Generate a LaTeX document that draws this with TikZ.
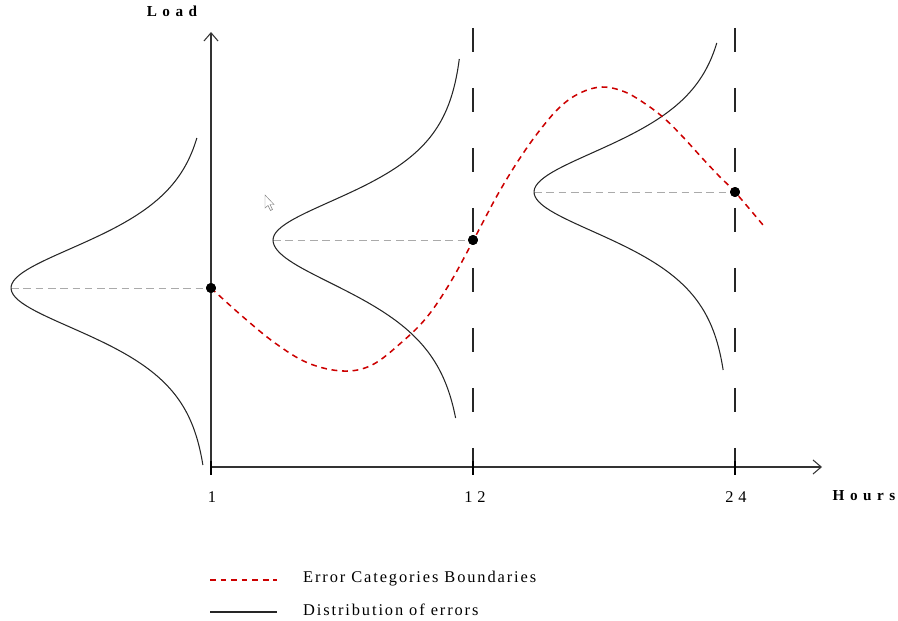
\documentclass[tikz,border=0pt]{standalone}
\usepackage{fontspec}
\setmainfont{Liberation Serif}
\newfontfamily\legendfont[LetterSpace=11.5]{Liberation Serif}
\newfontfamily\tickfont[LetterSpace=30]{Liberation Serif}
\newfontfamily\axisfont[LetterSpace=36]{Liberation Serif}
\usetikzlibrary{arrows.meta}
\definecolor{boundred}{RGB}{204,0,0}
\definecolor{axisgrey}{RGB}{51,51,51}
\definecolor{guidegrey}{RGB}{170,170,170}

\begin{document}
\begin{tikzpicture}[x=0.03cm, y=-0.03cm,
	axis/.style={axisgrey, line width=0.9pt, -{Straight Barb[length=7pt,width=12pt]}},
	hourtick/.style={black, line width=1.7pt},
	hourline/.style={black!85, line width=0.9pt, dash pattern=on 20.5pt off 30.7pt},
	guide/.style={guidegrey, line width=0.6pt, dash pattern=on 6.5pt off 4pt},
	boundary/.style={boundred, line width=1.3pt, dash pattern=on 5pt off 4pt},
	distrib/.style={black!85, line width=0.9pt},
	mean/.style={circle, fill=black, inner sep=0pt, minimum size=8.5pt},
	ticklab/.style={inner sep=0pt, anchor=base, font=\fontsize{14}{16}\tickfont},
	axislab/.style={inner sep=0pt, anchor=base, font=\fontsize{13}{15}\axisfont\bfseries},
	legendlab/.style={inner sep=0pt, anchor=base west, font=\fontsize{14}{16}\legendfont}]
	\useasboundingbox (0,0) rectangle (898,621);
	% hours 12 and 24
	\draw[hourline] (473,28) -- (473,467);
	\draw[hourline] (735,28) -- (735,467);
	% mean values
	\node[mean] (m1) at (211,288) {};
	\node[mean] (m2) at (473,240) {};
	\node[mean] (m3) at (735,192) {};
	\coordinate (t1) at (11,288);
	\coordinate (t2) at (273,240);
	\coordinate (t3) at (534,192);
	\draw[guide] (t1) -- (m1.center);
	\draw[guide] (t2) -- (m2.center);
	\draw[guide] (t3) -- (m3.center);
	% distributions
	\draw[distrib] plot[domain=-150:177, samples=120, variable=\t]
		({11+199*(1-1/cosh(\t/44))}, {288+\t});
	\draw[distrib] plot[domain=-181:0, samples=70, variable=\t]
		({273+192*(1-1/cosh(\t/43))}, {240+\t});
	\draw[distrib] plot[domain=0:178, samples=70, variable=\t]
		({273+192*(1-1/cosh(\t/48))}, {240+\t});
	\draw[distrib] plot[domain=-149:178, samples=120, variable=\t]
		({534+196*(1-1/cosh(\t/44))}, {192+\t});
	% boundaries
	\draw[boundary] plot[smooth, tension=0.6] coordinates {(211,288) (242,316) (275,343)
		(308,363) (343,371) (372,365) (402,342) (427,317) (450,283) (473,241)
		(498,194) (520,158) (540,130) (560,107) (580,93) (602,87) (625,92) (647,105)
		(665,119) (683,137) (703,159) (720,177) (735,192) (763,225)};
	% axes
	\coordinate (o) at (211,467);
	\draw[axis] (o) -- (211,32);
	\draw[axis] (o) -- (822,467);
	\draw[hourtick] (211,461) -- (211,475);
	\draw[hourtick] (473,461) -- (473,475);
	\draw[hourtick] (735,461) -- (735,475);
	\node[mean] at (m1) {};
	\node[mean] at (m2) {};
	\node[mean] at (m3) {};
	\node[ticklab] (h1) at (212,502) {1};
	\node[ticklab] (h12) at (475,502) {12};
	\node[ticklab] (h24) at (736,502) {24};
	\node[axislab] (hours) at (864,500) {Hours};
	\node[axislab] (load) at (172,17) {Load};
	% pointer
	\draw[gray, line width=0.4pt, fill=white] (265,195) -- (265,208) -- (268,205.5)
		-- (270.5,210.5) -- (272.5,209.5) -- (270,204.5) -- (274,204.5) -- cycle;
	% legend
	\draw[boundary] (210,580) -- (277,580);
	\draw[distrib] (210,612) -- (277,612);
	\node[legendlab] (lb) at (303,582) {Error Categories Boundaries};
	\node[legendlab] (ld) at (303,615) {Distribution of errors};
\end{tikzpicture}
\end{document}
